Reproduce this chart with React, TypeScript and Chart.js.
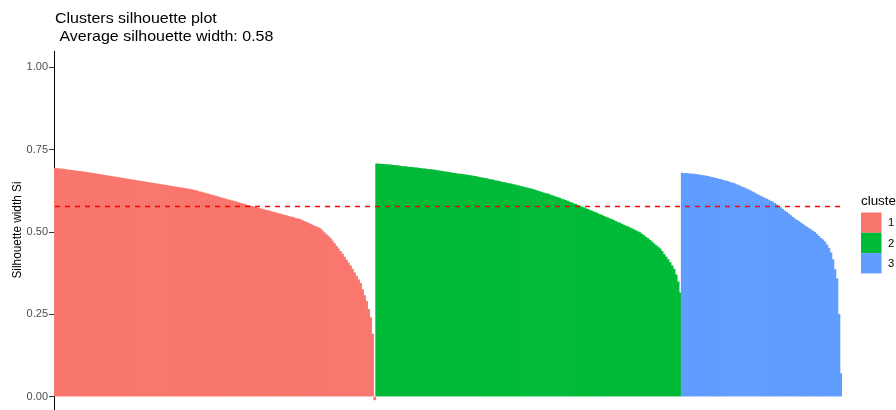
import { useEffect, useRef } from "react";
import { Chart, registerables } from "chart.js";

Chart.register(...registerables);

// Text
const plotTitle = "Clusters silhouette plot";
const averageWidth = 0.58;
const plotSubtitle = ` Average silhouette width: ${averageWidth.toFixed(2)}`;
const yAxisTitle = "Silhouette width Si";
const legendTitle = "cluster";

// Clusters
const clusterNames = ["1", "2", "3"];
const clusterColors = ["#F8766D", "#00BA38", "#619CFF"];

// Y axis ticks
const yTickValues = [0, 0.25, 0.5, 0.75, 1];

// Silhouette widths, sorted within each cluster
const cluster1 = [
  0.694, 0.693, 0.692, 0.692, 0.691, 0.690, 0.689, 0.688, 0.688, 0.687,
  0.686, 0.685, 0.684, 0.684, 0.683, 0.682, 0.681, 0.680, 0.679, 0.678,
  0.677, 0.676, 0.675, 0.674, 0.673, 0.672, 0.671, 0.670, 0.669, 0.668,
  0.667, 0.666, 0.665, 0.664, 0.663, 0.662, 0.661, 0.660, 0.659, 0.658,
  0.657, 0.656, 0.655, 0.654, 0.653, 0.652, 0.651, 0.650, 0.649, 0.648,
  0.647, 0.646, 0.645, 0.644, 0.643, 0.642, 0.641, 0.640, 0.639, 0.638,
  0.637, 0.636, 0.635, 0.634, 0.633, 0.632, 0.631, 0.630, 0.629, 0.627,
  0.626, 0.624, 0.622, 0.621, 0.619, 0.617, 0.616, 0.614, 0.612, 0.611,
  0.609, 0.607, 0.605, 0.603, 0.602, 0.600, 0.598, 0.597, 0.595, 0.593,
  0.592, 0.590, 0.588, 0.586, 0.585, 0.583, 0.581, 0.580, 0.578, 0.576,
  0.575, 0.573, 0.571, 0.570, 0.568, 0.566, 0.565, 0.563, 0.561, 0.560,
  0.558, 0.556, 0.555, 0.553, 0.551, 0.550, 0.548, 0.546, 0.545, 0.543,
  0.541, 0.540, 0.538, 0.535, 0.532, 0.530, 0.527, 0.524, 0.521, 0.518,
  0.516, 0.513, 0.510, 0.504, 0.498, 0.492, 0.487, 0.481, 0.473, 0.465,
  0.457, 0.449, 0.441, 0.433, 0.424, 0.415, 0.406, 0.397, 0.387, 0.376,
  0.366, 0.355, 0.344, 0.325, 0.307, 0.289, 0.265, 0.240, 0.190, -0.010,
];

const cluster2 = [
  0.707, 0.707, 0.706, 0.706, 0.705, 0.705, 0.704, 0.704, 0.703, 0.702,
  0.702, 0.701, 0.700, 0.699, 0.699, 0.698, 0.697, 0.697, 0.696, 0.695,
  0.695, 0.694, 0.693, 0.692, 0.692, 0.691, 0.690, 0.690, 0.689, 0.688,
  0.687, 0.686, 0.685, 0.684, 0.683, 0.682, 0.681, 0.680, 0.679, 0.678,
  0.677, 0.676, 0.676, 0.675, 0.674, 0.673, 0.672, 0.671, 0.670, 0.669,
  0.668, 0.666, 0.665, 0.664, 0.663, 0.662, 0.660, 0.659, 0.658, 0.656,
  0.655, 0.654, 0.652, 0.651, 0.650, 0.648, 0.647, 0.646, 0.644, 0.643,
  0.641, 0.640, 0.638, 0.637, 0.635, 0.634, 0.632, 0.631, 0.629, 0.627,
  0.625, 0.623, 0.621, 0.619, 0.617, 0.616, 0.614, 0.611, 0.609, 0.607,
  0.605, 0.603, 0.600, 0.598, 0.596, 0.594, 0.591, 0.589, 0.586, 0.584,
  0.581, 0.579, 0.576, 0.574, 0.571, 0.569, 0.566, 0.564, 0.561, 0.559,
  0.556, 0.553, 0.551, 0.548, 0.545, 0.543, 0.540, 0.538, 0.535, 0.532,
  0.529, 0.527, 0.524, 0.521, 0.518, 0.516, 0.513, 0.510, 0.507, 0.504,
  0.501, 0.498, 0.493, 0.489, 0.484, 0.480, 0.475, 0.470, 0.464, 0.459,
  0.454, 0.449, 0.441, 0.432, 0.424, 0.416, 0.407, 0.397, 0.387, 0.370,
  0.348, 0.315,
];

const cluster3 = [
  0.679, 0.678, 0.678, 0.677, 0.677, 0.676, 0.676, 0.675, 0.674, 0.673,
  0.672, 0.671, 0.670, 0.669, 0.667, 0.666, 0.664, 0.663, 0.661, 0.660,
  0.658, 0.656, 0.655, 0.653, 0.650, 0.649, 0.647, 0.644, 0.642, 0.639,
  0.636, 0.634, 0.631, 0.628, 0.625, 0.622, 0.619, 0.615, 0.612, 0.609,
  0.606, 0.603, 0.600, 0.597, 0.594, 0.591, 0.587, 0.583, 0.578, 0.574,
  0.569, 0.564, 0.560, 0.555, 0.550, 0.545, 0.540, 0.536, 0.532, 0.528,
  0.524, 0.519, 0.515, 0.511, 0.507, 0.503, 0.499, 0.493, 0.487, 0.481,
  0.476, 0.470, 0.461, 0.451, 0.437, 0.416, 0.386, 0.358, 0.250, 0.070,
];

const FONT = "'Liberation Sans', Arial, Helvetica, sans-serif";

function drawStretchedText(
  ctx: CanvasRenderingContext2D,
  text: string,
  x: number,
  y: number,
  size: number,
  color: string,
  stretchX: number,
  opts: { rotate?: number; align?: CanvasTextAlign } = {}
) {
  ctx.save();
  ctx.translate(x, y);
  ctx.scale(stretchX, 1);
  if (opts.rotate) ctx.rotate(opts.rotate);
  ctx.font = `${size}px ${FONT}`;
  ctx.fillStyle = color;
  ctx.textAlign = opts.align ?? "left";
  ctx.textBaseline = "alphabetic";
  ctx.fillText(text, 0, 0);
  ctx.restore();
}

const silhouetteDecor = {
  id: "silhouetteDecor",
  afterDatasetsDraw(chart: Chart) {
    const { ctx, chartArea, scales } = chart;
    // average silhouette width reference line
    const yPix = Math.round(scales.y.getPixelForValue(averageWidth)) + 0.5;
    ctx.save();
    ctx.strokeStyle = "#FF0000";
    ctx.lineWidth = 1.4;
    ctx.setLineDash([5, 5]);
    ctx.beginPath();
    ctx.moveTo(chartArea.left + 1, yPix);
    ctx.lineTo(chartArea.right + 2, yPix);
    ctx.stroke();
    ctx.restore();
  },
  afterDraw(chart: Chart) {
    const { ctx, chartArea } = chart;
    // plot title and subtitle
    drawStretchedText(ctx, plotTitle, 55, 23.3, 15, "#000000", 1.066);
    drawStretchedText(ctx, plotSubtitle, 55, 40.7, 15, "#000000", 1.066);
    // y axis title
    drawStretchedText(ctx, yAxisTitle, 20.7, (chartArea.top + chartArea.bottom) / 2 - 2, 11.8, "#000000", 1.12, {
      rotate: -Math.PI / 2,
      align: "center",
    });
    // legend
    drawStretchedText(ctx, legendTitle, 861, 205, 12.5, "#000000", 1.07);
    const keyX = 861;
    const keyW = 20.5;
    const keyH = 20.3;
    const keyTop = 212.5;
    clusterNames.forEach((name, k) => {
      const top = keyTop + k * keyH;
      ctx.save();
      ctx.fillStyle = clusterColors[k];
      ctx.fillRect(keyX, top, keyW, keyH);
      ctx.restore();
      drawStretchedText(ctx, name, 888, top + keyH / 2 + 3.8, 10.5, "#000000", 1.07);
    });
  },
};

export default function App() {
  const canvasRef = useRef<HTMLCanvasElement | null>(null);

  useEffect(() => {
    const canvas = canvasRef.current;
    if (!canvas) return;

    const values = [...cluster1, ...cluster2, ...cluster3];
    const colors = [
      ...cluster1.map(() => clusterColors[0]),
      ...cluster2.map(() => clusterColors[1]),
      ...cluster3.map(() => clusterColors[2]),
    ];
    const labels = values.map((_, i) => String(i + 1));

    const chart = new Chart(canvas, {
      type: "bar",
      data: {
        labels,
        datasets: [
          {
            data: values,
            backgroundColor: colors,
            borderWidth: 0,
            barPercentage: 1,
            categoryPercentage: 1,
          },
        ],
      },
      options: {
        animation: false,
        responsive: false,
        maintainAspectRatio: false,
        layout: { padding: { left: 0, right: 54, top: 51, bottom: 1 } },
        plugins: {
          legend: { display: false },
          title: { display: false },
          tooltip: { enabled: false },
        },
        scales: {
          x: { display: false },
          y: {
            min: -0.05,
            max: 1.05,
            afterFit: (scale: any) => {
              scale.width = 54;
              scale.paddingTop = 0;
              scale.paddingBottom = 0;
            },
            afterBuildTicks: (scale: any) => {
              scale.ticks = yTickValues.map((v) => ({ value: v }));
            },
            border: { display: true, color: "#000000", width: 1 },
            grid: {
              drawOnChartArea: false,
              drawTicks: true,
              tickLength: 5,
              tickColor: "#333333",
              tickWidth: 1,
            },
            ticks: {
              padding: 1,
              color: "#4D4D4D",
              font: { family: FONT, size: 11 },
              callback: (v: any) => Number(v).toFixed(2),
            },
          },
        },
      },
      plugins: [silhouetteDecor],
    });

    return () => chart.destroy();
  }, []);

  return (
    <div
      style={{
        position: "absolute",
        left: 0,
        top: 0,
        width: 896,
        height: 410,
        overflow: "hidden",
        background: "#FFFFFF",
      }}
    >
      <canvas ref={canvasRef} width={896} height={414} style={{ width: 896, height: 414, display: "block" }} />
    </div>
  );
}
